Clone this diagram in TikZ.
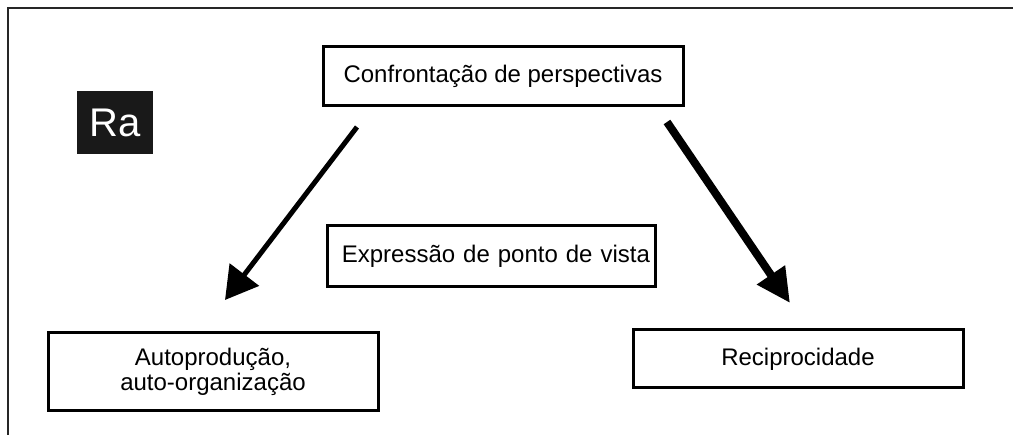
\documentclass[tikz,border=0pt]{standalone}
\usepackage{fontspec}
\setmainfont{Liberation Sans}
\usetikzlibrary{shapes,arrows.meta}

\begin{document}
\begin{tikzpicture}[x=1pt, y=-1pt]

    % Define block styles
    \tikzstyle{block} = [rectangle, draw, line width=3pt, fill=white,
        text centered, inner sep=0pt, font=\fontsize{24}{25.5}\selectfont]
    \tikzstyle{tag} = [rectangle, fill=black!90, text=white, minimum width=76pt,
        minimum height=63pt, inner sep=0pt, font=\fontsize{40}{44}\selectfont]
    \tikzstyle{line} = [draw, line width=5pt, -{Triangle[length=32pt, width=36pt]}]
    \tikzstyle{thickline} = [draw, line width=8pt, -{Triangle[length=34pt, width=32pt]}]

    \useasboundingbox (0,0) rectangle (1013,435);

    % Frame
    \draw [line width=2.5pt, black!85] (8,435) -- (8,8) -- (1013,8);

    % Place nodes
    \node [tag] (ra) at (115,122.5) {Ra};
    \node [block, minimum width=360pt, minimum height=59pt] (confront) at (503,76.5)
        {Confrontação de perspectivas};
    \node [block, minimum height=61pt, inner xsep=5pt, text width=318pt, align=right]
        (express) at (491,256.5) {Expressão de ponto de vista};
    \node [block, minimum width=330pt, minimum height=78pt, align=center] (autoprod)
        at (213,372) {Autoprodução,\\auto-organização};
    \node [block, minimum width=330pt, minimum height=58pt] (recip) at (798,359)
        {Reciprocidade};

    % Arrow ends
    \coordinate (lstart) at (357,127);
    \coordinate (lend) at (225,300);
    \coordinate (rstart) at (667,122);
    \coordinate (rend) at (790,303);

    % Draw edges
    \path [line] (lstart) -- (lend);
    \path [thickline] (rstart) -- (rend);

\end{tikzpicture}
\end{document}
